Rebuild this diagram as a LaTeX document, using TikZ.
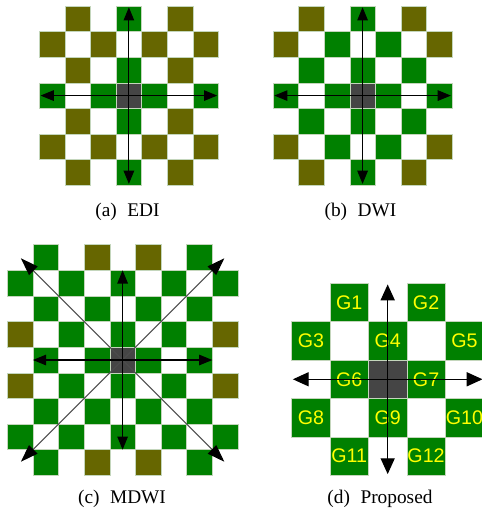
\documentclass[tikz,border=0pt]{standalone}
\usepackage{fontspec}
\setmainfont{Liberation Serif}
\newfontfamily\glabelfont{Liberation Sans}
\usetikzlibrary{arrows.meta}
\definecolor{cellgreen}{HTML}{008000}
\definecolor{cellolive}{HTML}{666600}
\definecolor{cellcenter}{HTML}{454545}
\definecolor{cellline}{HTML}{C4D6BC}
\definecolor{glabel}{HTML}{FFFF00}

\tikzset{
  cell/.style={draw=cellline, line width=0.3pt},
  ray/.style={line width=0.6pt, -{Triangle[length=7.5pt,width=6pt]}},
  diagray/.style={black!70, line width=0.55pt, -{Triangle[length=10pt,width=6.8pt,color=black]}},
  bigray/.style={line width=0.7pt, -{Triangle[length=9pt,width=8pt]}},
  gcell/.style={cell, fill=cellgreen, minimum size=0.768cm, inner sep=0pt,
    text=glabel, font=\glabelfont\fontsize{11.2}{12}\selectfont},
  subcap/.style={anchor=base, inner sep=0pt, font=\fontsize{11}{12}\selectfont}
}

\begin{document}
\begin{tikzpicture}[x=0.02cm,y=-0.02cm]
\useasboundingbox (0,0) rectangle (482,510);

% (a) EDI
\begin{scope}[shift={(39.3,6)}, x=0.512cm, y=-0.512cm]
  \foreach \c/\r in {1/0,5/0,0/1,2/1,4/1,6/1,1/2,5/2,1/4,5/4,0/5,2/5,4/5,6/5,1/6,5/6}
    \draw[cell, fill=cellolive] (\c,\r) rectangle ++(1,1);
  \foreach \c/\r in {3/0,3/2,0/3,2/3,4/3,6/3,3/4,3/6}
    \draw[cell, fill=cellgreen] (\c,\r) rectangle ++(1,1);
  \draw[cell, fill=cellcenter] (3,3) rectangle ++(1,1);
  \coordinate (ctrA) at (3.5,3.5);
  \coordinate (upA) at (3.5,0.05);
  \coordinate (downA) at (3.5,6.95);
  \coordinate (leftA) at (0.05,3.5);
  \coordinate (rightA) at (6.95,3.5);
  \foreach \e in {upA,downA,leftA,rightA}
    \draw[ray] (ctrA) -- (\e);
\end{scope}

% (b) DWI
\begin{scope}[shift={(273,6)}, x=0.512cm, y=-0.512cm]
  \foreach \c/\r in {1/0,5/0,0/1,6/1,0/5,6/5,1/6,5/6}
    \draw[cell, fill=cellolive] (\c,\r) rectangle ++(1,1);
  \foreach \c/\r in {3/0,2/1,4/1,1/2,3/2,5/2,0/3,2/3,4/3,6/3,1/4,3/4,5/4,2/5,4/5,3/6}
    \draw[cell, fill=cellgreen] (\c,\r) rectangle ++(1,1);
  \draw[cell, fill=cellcenter] (3,3) rectangle ++(1,1);
  \coordinate (ctrB) at (3.5,3.5);
  \coordinate (upB) at (3.5,0.05);
  \coordinate (downB) at (3.5,6.95);
  \coordinate (leftB) at (0.05,3.5);
  \coordinate (rightB) at (6.95,3.5);
  \foreach \e in {upB,downB,leftB,rightB}
    \draw[ray] (ctrB) -- (\e);
\end{scope}

% (c) MDWI
\begin{scope}[shift={(7.3,244.7)}, x=0.5126cm, y=-0.5126cm]
  \foreach \r in {0,...,8}
    \foreach \c in {0,...,8}{
      \pgfmathtruncatemacro\s{\r+\c}
      \ifodd\s \draw[cell, fill=cellgreen] (\c,\r) rectangle ++(1,1); \fi
    }
  \foreach \c/\r in {3/0,5/0,0/3,8/3,0/5,8/5,3/8,5/8}
    \draw[cell, fill=cellolive] (\c,\r) rectangle ++(1,1);
  \draw[cell, fill=cellcenter] (4,4) rectangle ++(1,1);
  \coordinate (ctrC) at (4.5,4.5);
  \coordinate (upC) at (4.5,1);
  \coordinate (downC) at (4.5,8);
  \coordinate (leftC) at (1,4.5);
  \coordinate (rightC) at (8,4.5);
  \coordinate (nwC) at (0.53,0.53);
  \coordinate (neC) at (8.47,0.53);
  \coordinate (swC) at (0.53,8.47);
  \coordinate (seC) at (8.47,8.47);
  \foreach \e in {nwC,neC,swC,seC}
    \draw[diagray] (ctrC) -- (\e);
  \foreach \e in {upC,downC,leftC,rightC}
    \draw[ray] (ctrC) -- (\e);
\end{scope}

% (d) Proposed
\begin{scope}[shift={(291.7,283.3)}, x=0.768cm, y=-0.768cm]
  \node[gcell] (g1) at (1.5,0.5) {G1};
  \node[gcell] (g2) at (3.5,0.5) {G2};
  \node[gcell] (g3) at (0.5,1.5) {G3};
  \node[gcell] (g4) at (2.5,1.5) {G4};
  \node[gcell] (g5) at (4.5,1.5) {G5};
  \node[gcell] (g6) at (1.5,2.5) {G6};
  \node[gcell, fill=cellcenter] (ctrD) at (2.5,2.5) {};
  \node[gcell] (g7) at (3.5,2.5) {G7};
  \node[gcell] (g8) at (0.5,3.5) {G8};
  \node[gcell] (g9) at (2.5,3.5) {G9};
  \node[gcell] (g10) at (4.5,3.5) {G10};
  \node[gcell] (g11) at (1.5,4.5) {G11};
  \node[gcell] (g12) at (3.5,4.5) {G12};
  \coordinate (upD) at (2.5,0.03);
  \coordinate (downD) at (2.5,4.97);
  \coordinate (leftD) at (0.03,2.5);
  \coordinate (rightD) at (4.97,2.5);
  \foreach \e in {upD,downD,leftD,rightD}
    \draw[bigray] (ctrD.center) -- (\e);
\end{scope}

% captions
\node[subcap] (capA) at (127.5,216.7) {(a)\hspace{6pt}EDI};
\node[subcap] (capB) at (360.5,216.7) {(b)\hspace{6pt}DWI};
\node[subcap] (capC) at (122,503.3) {(c)\hspace{6pt}MDWI};
\node[subcap] (capD) at (380,503.3) {(d)\hspace{6pt}Proposed};
\end{tikzpicture}
\end{document}
